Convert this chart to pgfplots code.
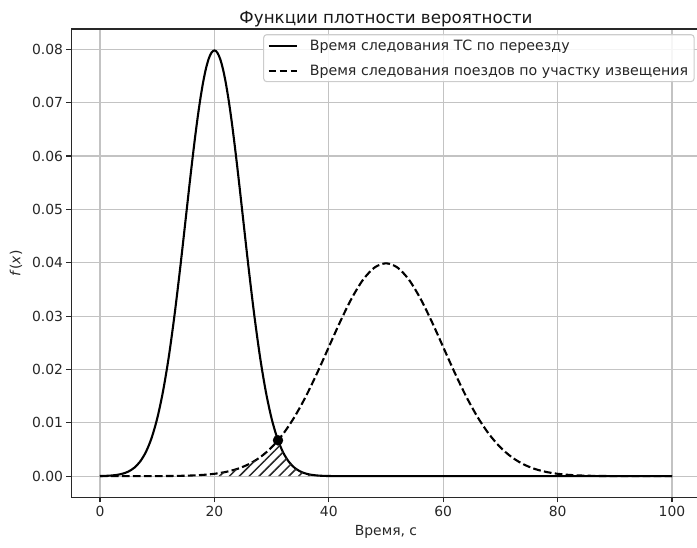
\documentclass[border=0pt]{standalone}
\usepackage{fontspec}
\setmainfont{DejaVu Sans}
\usepackage{pgfplots}
\pgfplotsset{compat=1.18}
\usetikzlibrary{patterns.meta}

\definecolor{gridgray}{RGB}{195,195,195}
\definecolor{legframe}{RGB}{204,204,204}
\definecolor{spine}{RGB}{40,40,40}

\begin{document}
\begin{tikzpicture}
\begin{axis}[
  name=ax,
  scale only axis,
  width=629.2pt, height=468.5pt,
  xmin=-5, xmax=105,
  ymin=-0.004, ymax=0.0838,
  xtick={0,20,40,60,80,100},
  ytick={0,0.01,0.02,0.03,0.04,0.05,0.06,0.07,0.08},
  scaled y ticks=false,
  yticklabel style={/pgf/number format/fixed,/pgf/number format/fixed zerofill,/pgf/number format/precision=2},
  /pgf/number format/assume math mode=true,
  tick label style={font=\fontsize{13.9}{16}\selectfont, text=black!85},
  label style={font=\fontsize{13.9}{16}\selectfont, text=black!85},
  title style={font=\fontsize{16.7}{19}\selectfont, text=black!90, yshift=-8pt},
  title={Функции плотности вероятности},
  xlabel={Время, с},
  xlabel style={yshift=-2pt},
  ylabel={\textit{f}(\textit{x})},
  ylabel style={yshift=3pt},
  tick align=outside,
  major tick length=4.9pt,
  tick style={line width=1.1pt, spine},
  xtick pos=bottom, ytick pos=left,
  axis line style={line width=1.1pt, spine},
  grid=major,
  major grid style={line width=1.1pt, gridgray},
  legend cell align=left,
  legend style={
    at={(0.9905,0.989)}, anchor=north east,
    draw=legframe, line width=1.1pt, rounded corners=3pt,
    fill=white, fill opacity=0.85, text opacity=1,
    font=\fontsize{14.2}{16}\selectfont, text=black!85,
    inner xsep=4pt, inner ysep=3pt,
    row sep=9pt, column sep=10pt,
  },
  legend image code/.code={\draw[#1] (0pt,0pt) -- (28pt,0pt);},
]

% crossing-time density, mean 20 s, sigma 5 s
\addplot[black, line width=2.1pt, smooth] coordinates {
  (0,0.0000267) (1,0.0000584) (2,0.000122) (3,0.000246) (4,0.000477)
  (5,0.000886) (6,0.001583) (7,0.002717) (8,0.004479) (9,0.007095)
  (10,0.01080) (11,0.01579) (12,0.02218) (13,0.02995) (14,0.03884)
  (15,0.04839) (15.5,0.05322) (16,0.05794) (16.5,0.06245) (17,0.06665)
  (17.5,0.07041) (18,0.07365) (18.5,0.07628) (19,0.07821) (19.5,0.07939)
  (20,0.07979)
  (20.5,0.07939) (21,0.07821) (21.5,0.07628) (22,0.07365) (22.5,0.07041)
  (23,0.06665) (23.5,0.06245) (24,0.05794) (24.5,0.05322) (25,0.04839)
  (26,0.03884) (27,0.02995) (28,0.02218) (29,0.01579) (30,0.01080)
  (31,0.007095) (32,0.004479) (33,0.002717) (34,0.001583) (35,0.000886)
  (36,0.000477) (37,0.000246) (38,0.000122) (39,0.0000584) (40,0.0000267)
  (41,0.0000118) (42,0.000005) (44,0.0000008) (46,0) (50,0) (60,0)
  (70,0) (80,0) (90,0) (100,0)
};
\addlegendentry{Время следования ТС по переезду}

% train travel time density, mean 50 s, sigma 10 s
\addplot[black, line width=2.1pt, smooth, dash pattern=on 7.7pt off 3.3pt] coordinates {
  (0,0.0000002) (2,0.0000004) (4,0.000001) (6,0.0000025) (8,0.0000059)
  (10,0.0000134) (12,0.0000292) (14,0.0000612) (16,0.000123) (18,0.000238)
  (20,0.000443) (22,0.000792) (24,0.001358) (26,0.002239) (28,0.003547)
  (30,0.005399) (32,0.007895) (34,0.01109) (36,0.01497) (38,0.01942)
  (40,0.02420) (42,0.02897) (44,0.03332) (46,0.03683) (48,0.03910)
  (50,0.03989)
  (52,0.03910) (54,0.03683) (56,0.03332) (58,0.02897) (60,0.02420)
  (62,0.01942) (64,0.01497) (66,0.01109) (68,0.007895) (70,0.005399)
  (72,0.003547) (74,0.002239) (76,0.001358) (78,0.000792) (80,0.000443)
  (82,0.000238) (84,0.000123) (86,0.0000612) (88,0.0000292) (90,0.0000134)
  (92,0.0000059) (94,0.0000025) (96,0.000001) (98,0.0000004) (100,0.0000002)
};
\addlegendentry{Время следования поездов по участку извещения}

% overlap area under both densities
\addplot[draw=none, pattern={Lines[angle=45,distance=7pt,line width=1.5pt]}, pattern color=black!85, forget plot] coordinates {
  (20,0) (20,0.000443) (21,0.000595) (22,0.000792) (23,0.001042)
  (24,0.001358) (25,0.001753) (26,0.002239) (27,0.002833) (28,0.003547)
  (29,0.004398) (30,0.005399) (31,0.006562) (31.12,0.006716)
  (32,0.004479) (33,0.002717) (34,0.001583) (35,0.000886) (36,0.000477)
  (37,0.000246) (38,0.000122) (39,0.0000584) (40,0.0000267) (40,0)
} \closedcycle;

% intersection of the two densities
\addplot[only marks, mark=*, mark size=5pt, black, forget plot] coordinates {(31.12,0.006716)};

\end{axis}
\pgfresetboundingbox
\path[use as bounding box] ([xshift=-71.4pt,yshift=-49.7pt]ax.south west) rectangle ([xshift=625.6pt,yshift=29pt]ax.north west);
\end{tikzpicture}
\end{document}
